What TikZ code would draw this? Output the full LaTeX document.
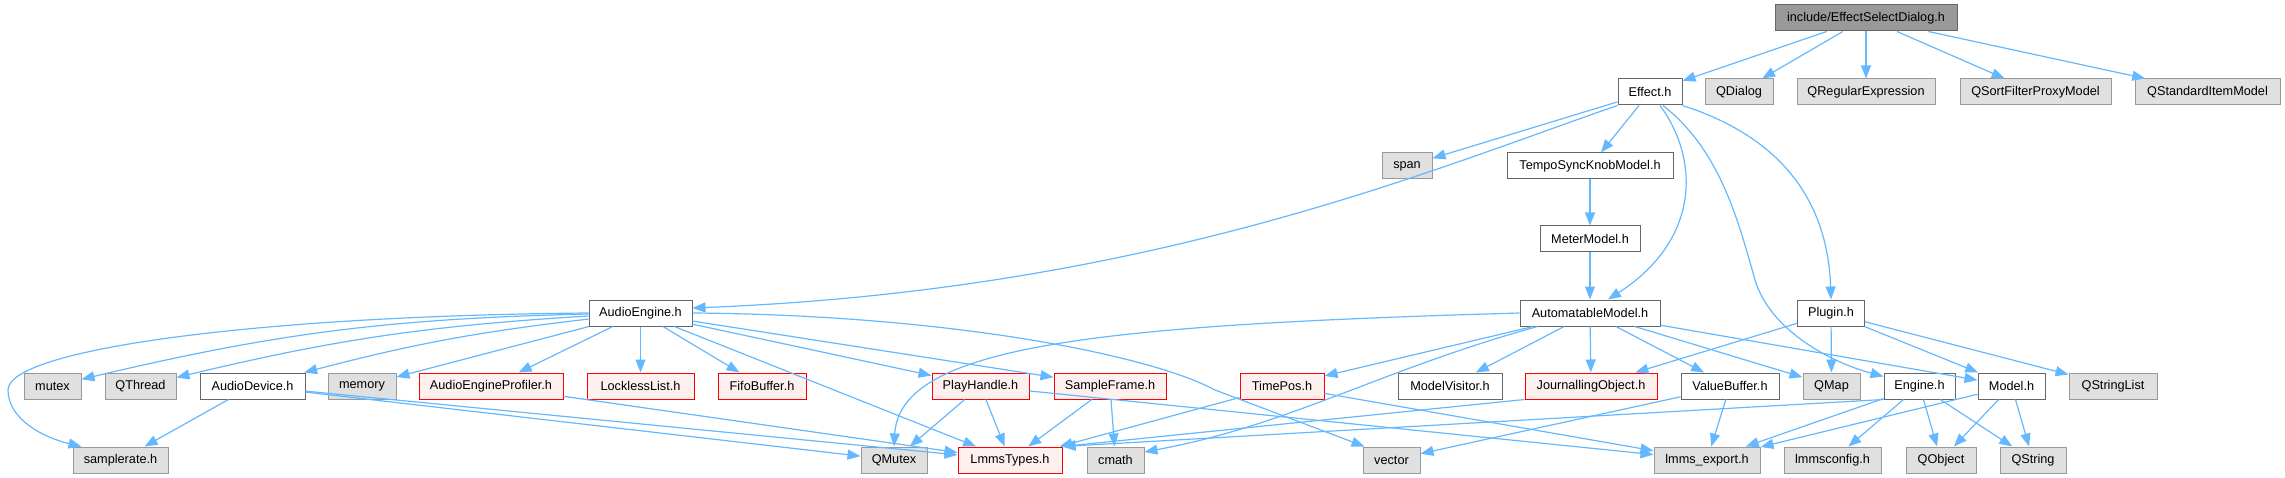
\documentclass[tikz,border=0pt]{standalone}
\usepackage{fontspec}
\setmainfont{Liberation Sans}
\usepackage{xcolor}
\usetikzlibrary{arrows.meta, calc}

\definecolor{depblue}{HTML}{63B8FF}
\definecolor{rootgray}{HTML}{999999}
\definecolor{boxline}{HTML}{666666}
\definecolor{extline}{HTML}{999999}
\definecolor{extfill}{HTML}{E0E0E0}
\definecolor{cutline}{HTML}{FF0000}
\definecolor{cutfill}{HTML}{FFF0F0}

\begin{document}
\begin{tikzpicture}[
  x=1pt, y=-1pt,
  font=\fontsize{12.7}{15}\selectfont,
  hbox/.style={draw=boxline, fill=white, minimum height=26pt,
               inner sep=0pt, line width=1pt},
  top/.style={hbox, fill=rootgray},
  ext/.style={hbox, draw=extline, fill=extfill},
  cut/.style={hbox, draw=cutline, fill=cutfill},
  dep/.style={-{Triangle[length=13pt,width=10pt]}, draw=depblue, line width=1.2pt},
]
\useasboundingbox (0,0) rectangle (2285,478);

%% ---- the file itself and what it includes directly ----
\node[top, minimum width=182pt] (root) at (1866,18) {include/EffectSelectDialog.h};
\node[hbox, minimum width=64pt]  (eff)   at (1650,92)   {Effect.h};
\node[ext,  minimum width=68pt]  (qdlg)  at (1739,92)   {QDialog};
\node[ext,  minimum width=138pt] (qre)   at (1866,92)   {QRegularExpression};
\node[ext,  minimum width=151pt] (qsfpm) at (2035.5,92) {QSortFilterProxyModel};
\node[ext,  minimum width=145pt] (qsim)  at (2207.5,92) {QStandardItemModel};

%% ---- second and third level ----
\node[ext,  minimum width=50pt]  (span)  at (1407,166) {span};
\node[hbox, minimum width=166pt] (tsk)   at (1590,166) {TempoSyncKnobModel.h};
\node[hbox, minimum width=100pt] (meter) at (1590,239) {MeterModel.h};

\node[hbox, minimum width=103pt] (ae)    at (640.5,313) {AudioEngine.h};
\node[hbox, minimum width=140pt] (am)    at (1590,313)  {AutomatableModel.h};
\node[hbox, minimum width=67pt]  (plug)  at (1831,313)  {Plugin.h};

%% ---- the wide row ----
\node[ext,  minimum width=57pt]  (mutex) at (52.5,386)   {mutex};
\node[ext,  minimum width=71pt]  (qthr)  at (140.5,386)  {QThread};
\node[hbox, minimum width=105pt] (adev)  at (252.5,386)  {AudioDevice.h};
\node[ext,  minimum width=68pt]  (mem)   at (362,386)    {memory};
\node[cut,  minimum width=144pt] (aep)   at (491,386)    {AudioEngineProfiler.h};
\node[cut,  minimum width=107pt] (llist) at (640.5,386)  {LocklessList.h};
\node[cut,  minimum width=88pt]  (fifo)  at (762,386)    {FifoBuffer.h};
\node[cut,  minimum width=97pt]  (ph)    at (980.5,386)  {PlayHandle.h};
\node[cut,  minimum width=112pt] (sf)    at (1110,386)   {SampleFrame.h};
\node[cut,  minimum width=84pt]  (tpos)  at (1282,386)   {TimePos.h};
\node[hbox, minimum width=104pt] (mvis)  at (1450,386)   {ModelVisitor.h};
\node[cut,  minimum width=132pt] (jo)    at (1591,386)   {JournallingObject.h};
\node[hbox, minimum width=98pt]  (vbuf)  at (1730,386)   {ValueBuffer.h};
\node[ext,  minimum width=57pt]  (qmap)  at (1831.5,386) {QMap};
\node[hbox, minimum width=71pt]  (eng)   at (1919.5,386) {Engine.h};
\node[hbox, minimum width=67pt]  (model) at (2011.5,386) {Model.h};
\node[ext,  minimum width=88pt]  (qsl)   at (2113,386)   {QStringList};

%% ---- leaves ----
\node[ext,  minimum width=95pt]  (sr)    at (120.5,460)  {samplerate.h};
\node[ext,  minimum width=66pt]  (qmtx)  at (894,460)    {QMutex};
\node[cut,  minimum width=104pt] (lt)    at (1010,460)   {LmmsTypes.h};
\node[ext,  minimum width=57pt]  (cmath) at (1115.5,460) {cmath};
\node[ext,  minimum width=57pt]  (vec)   at (1391.5,460) {vector};
\node[ext,  minimum width=106pt] (lexp)  at (1707,460)   {lmms\_export.h};
\node[ext,  minimum width=97pt]  (lcfg)  at (1832.5,460) {lmmsconfig.h};
\node[ext,  minimum width=70pt]  (qobj)  at (1941,460)   {QObject};
\node[ext,  minimum width=66pt]  (qstr)  at (2033,460)   {QString};

%% ---- straight includes ----
\foreach \a/\b in {root/eff, root/qdlg, root/qre, root/qsfpm, root/qsim,
                   eff/span, eff/tsk, tsk/meter, meter/am,
                   ae/mem, ae/aep, ae/llist, ae/fifo, ae/ph, ae/sf, ae/lt,
                   adev/sr, adev/qmtx, adev/lt, aep/lt,
                   ph/qmtx, ph/lt, ph/lexp, sf/lt, sf/cmath, tpos/lt, tpos/lexp,
                   am/tpos, am/mvis, am/jo, am/vbuf, am/qmap, am/model,
                   plug/jo, plug/qmap, plug/model, plug/qsl,
                   vbuf/vec, vbuf/lexp,
                   eng/lexp, eng/lcfg, eng/qobj, eng/qstr,
                   model/lexp, model/qobj, model/qstr}
  \draw[dep] (\a) -- (\b);
\draw[dep] (jo.south west) -- (lt.north east);
\draw[dep] (eng.south west) -- (lt.north east);

%% ---- slightly bent fans out of AudioEngine.h ----
\draw[dep] (ae) to[bend right=6] (mutex);
\draw[dep] (ae) to[bend right=5] (qthr);
\draw[dep] (ae) to[bend right=4] (adev);

%% ---- the long curved ones ----
\draw[dep] (eff.south west) .. controls (1430,170) and (1150,290) .. ([yshift=5pt]ae.east);
\draw[dep] ([xshift=10pt]eff.south) .. controls (1700,160) and (1700,240) .. ([xshift=18pt]am.north);
\draw[dep] ([xshift=13pt]eff.south) .. controls (1720,150) and (1738,220) .. (1755,280)
  .. controls (1770,330) and (1830,362) .. ([yshift=-4pt]eng.north west);
\draw[dep] (eff.south east) .. controls (1790,140) and (1828,210) .. (plug.north);
\draw[dep] (ae.west) .. controls (250,316) and (8,350) .. (8,390)
  .. controls (8,420) and (45,438) .. ($(sr.north west)+(9,0)$);
\draw[dep] (ae.east) .. controls (950,315) and (1150,355) .. (1215,390)
  -- ([xshift=2pt]vec.north west);
\draw[dep] (am.west) .. controls (1100,325) and (900,345) .. (qmtx.north);
\draw[dep] ([xshift=18pt]am.south west) .. controls (1380,370) and (1290,425) .. ([yshift=8pt]cmath.east);
\end{tikzpicture}
\end{document}
